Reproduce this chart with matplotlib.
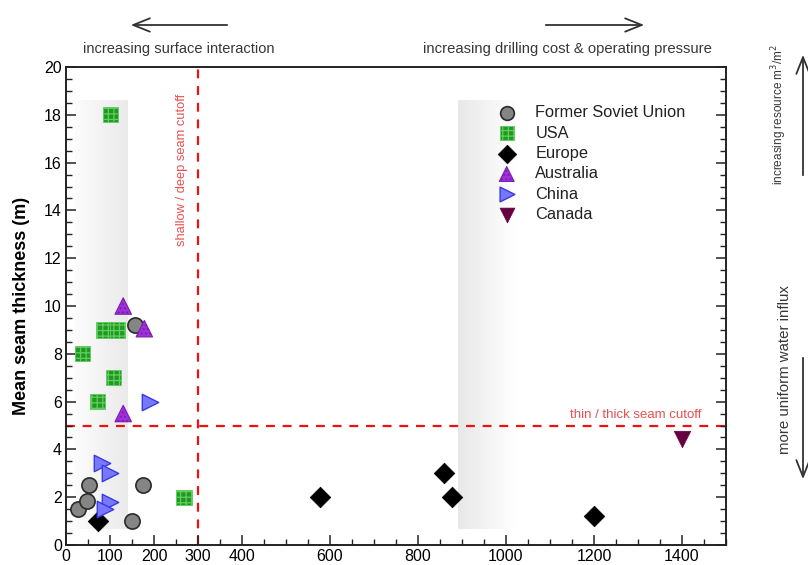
import numpy as np
import matplotlib
matplotlib.use("Agg")
import matplotlib.pyplot as plt
from matplotlib.colors import LinearSegmentedColormap
from matplotlib.patches import FancyArrowPatch
from matplotlib.ticker import MultipleLocator, FixedLocator

plt.rcParams['font.family'] = ['Liberation Sans', 'DejaVu Sans']
plt.rcParams['hatch.linewidth'] = 0.9

# depth (m) and mean seam thickness (m) per region
fsu_depth = [27, 47, 52, 150, 157, 175]
fsu_thick = [1.5, 1.85, 2.5, 1.0, 9.2, 2.5]
usa_depth = [102, 37, 85, 117, 108, 72, 268]
usa_thick = [18, 8, 9, 9, 7, 6, 2]
eur_depth = [72, 578, 858, 878, 1200]
eur_thick = [1.0, 2.0, 3.0, 2.0, 1.2]
aus_depth = [130, 178, 130]
aus_thick = [10.0, 9.05, 5.5]
chn_depth = [191, 81, 100, 100, 89]
chn_thick = [6.0, 3.45, 3.0, 1.8, 1.5]
can_depth = [1400]
can_thick = [4.45]

depth_cutoff = 300
thick_cutoff = 5
x_ticks = [0, 100, 200, 300, 400, 600, 800, 1000, 1200, 1400]
y_ticks = list(range(0, 21, 2))

fig = plt.figure(figsize=(8.08, 5.65), dpi=100)
ax = fig.add_axes([0.0817, 0.0354, 0.8168, 0.846])

# shaded depth bands
band_l = LinearSegmentedColormap.from_list('bl', ['#fcfcfc', '#eaeaea'])
band_r = LinearSegmentedColormap.from_list('br', ['#e8e8e8', '#ffffff'])
grad = np.linspace(0, 1, 256).reshape(1, -1)
ax.imshow(grad, cmap=band_l, extent=[20, 140, 0.67, 18.6], aspect='auto', zorder=0)
ax.imshow(grad, cmap=band_r, extent=[890, 1022, 0.67, 18.6], aspect='auto', zorder=0)
ax.set_xlim(0, 1500)
ax.set_ylim(0, 20)

# cutoff lines
ax.axvline(depth_cutoff, color='#ee1111', ls=(0, (4, 3.5)), lw=1.6, zorder=1)
ax.axhline(thick_cutoff, color='#ee1111', ls=(0, (4, 3.5)), lw=1.6, zorder=1)
ax.text(264, 15.7, 'shallow / deep seam cutoff', rotation=90, color='#e85050',
        fontsize=9.3, ha='center', va='center')
ax.text(1295, 5.45, 'thin / thick seam cutoff', color='#e85050',
        fontsize=9.5, ha='center', va='center')

ms = 120
ax.scatter(fsu_depth, fsu_thick, s=ms, marker='o', facecolor='#858585',
           edgecolor='#2a2a2a', lw=1.2, label='Former Soviet Union', zorder=3)
ax.scatter(usa_depth, usa_thick, s=ms, marker='s', facecolor='#1f9a1f',
           edgecolor='#62cc62', hatch='+++', lw=0.6, label='USA', zorder=3)
ax.scatter(eur_depth, eur_thick, s=ms - 10, marker='D', facecolor='black',
           edgecolor='black', lw=0.5, label='Europe', zorder=3)
ax.scatter(aus_depth, aus_thick, s=ms + 20, marker='^', facecolor='#a030d8',
           edgecolor='#7a1cb0', hatch='....', lw=0.8, label='Australia', zorder=3)
ax.scatter(chn_depth, chn_thick, s=ms + 20, marker='>', facecolor='#7878ff',
           edgecolor='#3a3ae0', lw=1.0, label='China', zorder=3)
ax.scatter(can_depth, can_thick, s=ms + 20, marker='v', facecolor='#660040',
           edgecolor='#660040', lw=0.5, label='Canada', zorder=3)

ax.legend(loc='upper left', bbox_to_anchor=(0.633, 0.934), frameon=False,
          fontsize=11.8, handletextpad=0.75, labelspacing=0.33,
          borderaxespad=0, markerscale=0.9, labelcolor='#222222')

ax.xaxis.set_major_locator(FixedLocator(x_ticks))
ax.xaxis.set_minor_locator(MultipleLocator(50))
ax.yaxis.set_major_locator(FixedLocator(y_ticks))
ax.yaxis.set_minor_locator(MultipleLocator(0.5))
ax.tick_params(which='both', direction='in', top=False, right=True,
               labelsize=11.5, color='#222222', pad=3)
ax.tick_params(which='major', length=7, width=1.1)
ax.tick_params(which='minor', length=4, width=1.0)
for sp in ax.spines.values():
    sp.set_linewidth(1.4)
    sp.set_color('#222222')

ax.set_ylabel('Mean seam thickness (m)', fontsize=13, fontweight='bold', labelpad=10)

# direction annotations around the plot
arrow_kw = dict(arrowstyle='->,head_length=1.0,head_width=0.4', color='#333333', lw=1.3)
arrows = [((230, 25), (128, 25)), ((543, 25), (647, 25)),
          ((803, 178), (803, 52)), ((803, 355), (803, 482))]
for (x0, y0), (x1, y1) in arrows:
    fig.add_artist(FancyArrowPatch((x0 / 808, 1 - y0 / 565), (x1 / 808, 1 - y1 / 565),
                   transform=fig.transFigure, mutation_scale=12, **arrow_kw))

fig.text(179/808, 1-49/565, 'increasing surface interaction', ha='center', va='center',
         fontsize=10.5, color='#383838')
fig.text(567/808, 1-49/565, 'increasing drilling cost & operating pressure', ha='center',
         va='center', fontsize=10.7, color='#383838')
fig.text(779/808, 1-115/565, 'increasing resource m$^3$/m$^2$', rotation=90, ha='center',
         va='center', fontsize=8.5, color='#383838')
fig.text(785/808, 1-370/565, 'more uniform water influx', rotation=90, ha='center',
         va='center', fontsize=10.8, color='#383838')

fig.savefig('out.png', dpi=100)
